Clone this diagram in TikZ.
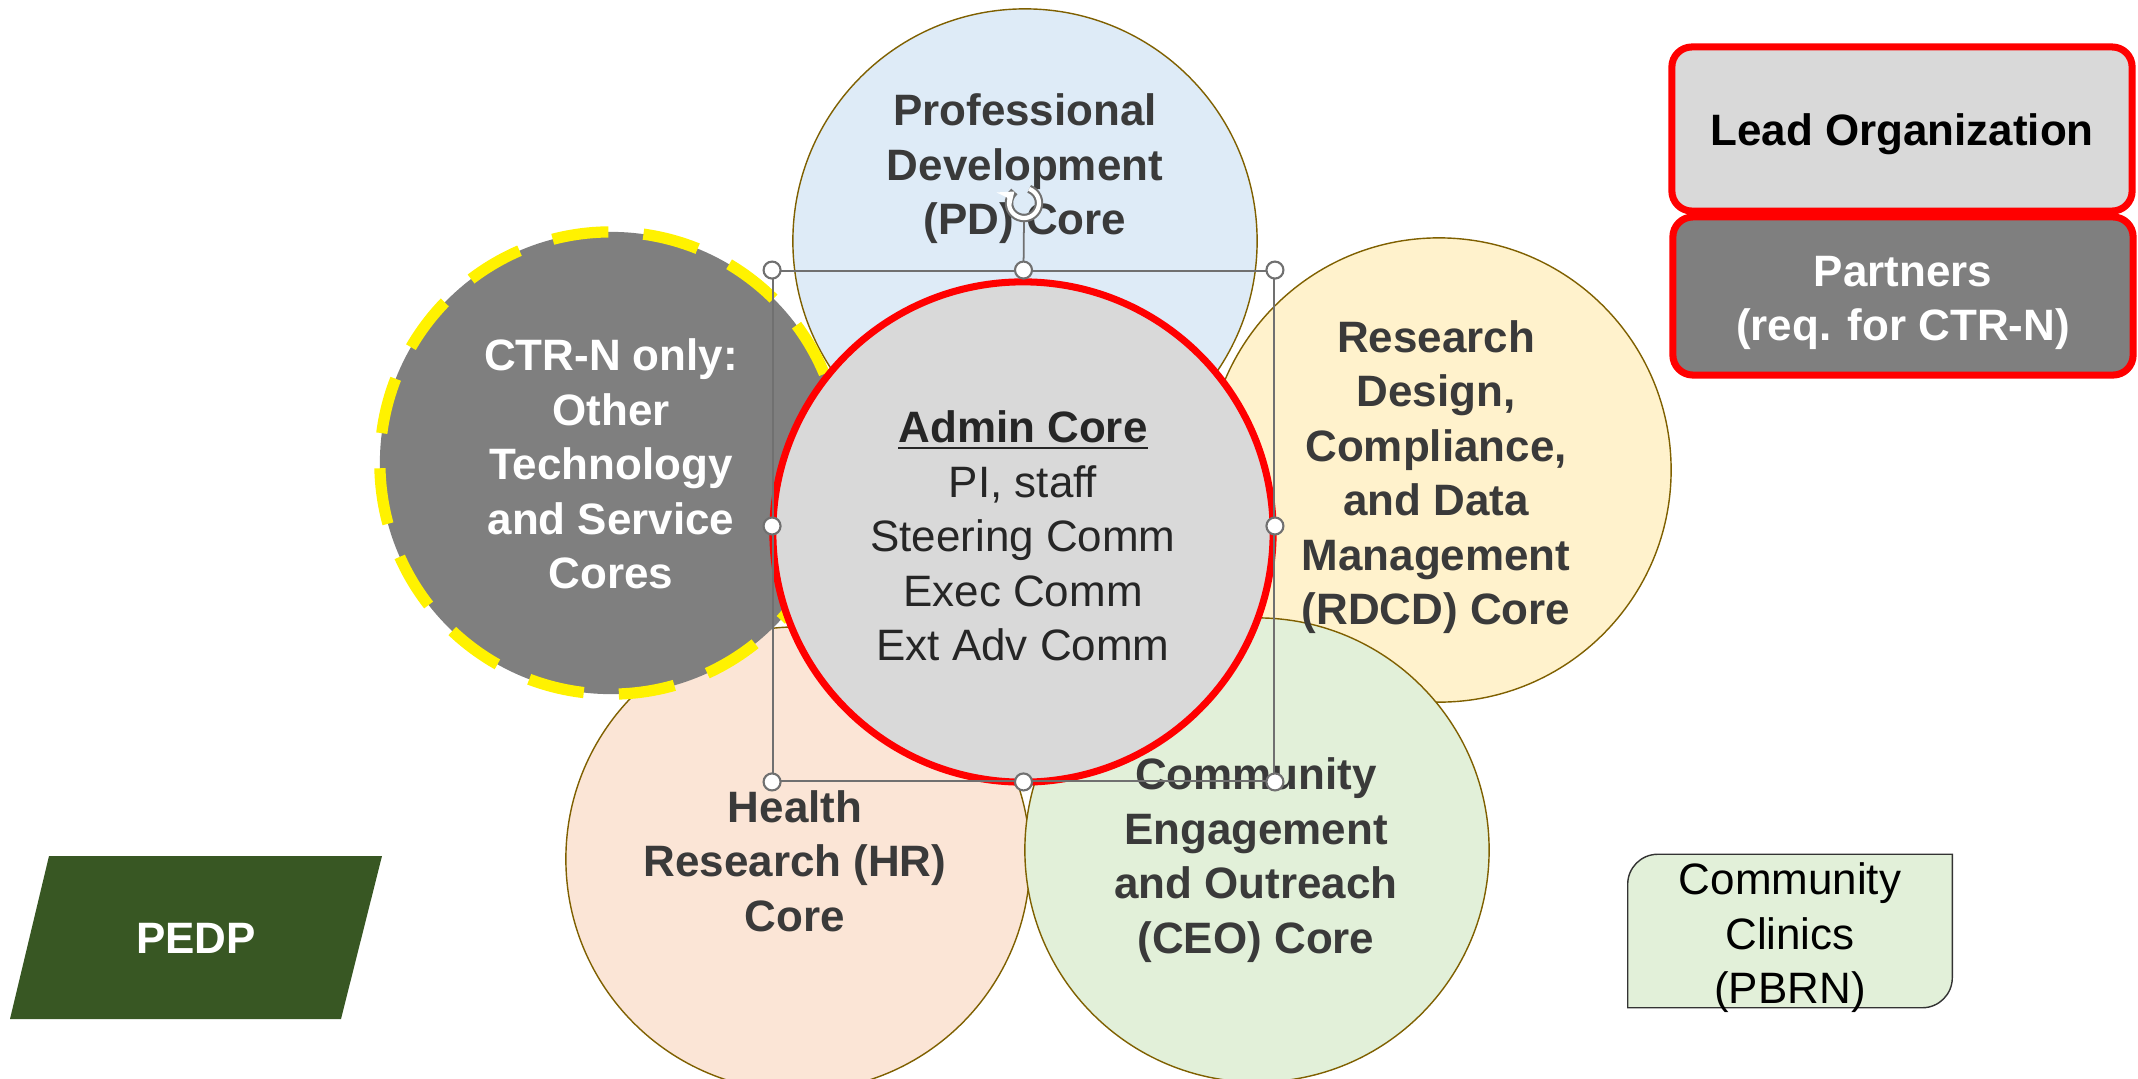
\documentclass[tikz,border=0pt]{standalone}
\usepackage{fontspec}
\setmainfont{Liberation Sans}
\usepackage{xcolor}
\usetikzlibrary{arrows.meta}

\definecolor{pdblue}{HTML}{DEEBF7}
\definecolor{rdcdyellow}{HTML}{FFF2CC}
\definecolor{ceogreen}{HTML}{E2F0D9}
\definecolor{hrpeach}{HTML}{FBE5D6}
\definecolor{admingray}{HTML}{D9D9D9}
\definecolor{ctrgray}{HTML}{7F7F7F}
\definecolor{coreline}{HTML}{7F6000}
\definecolor{coretext}{HTML}{3A3A3A}
\definecolor{pedpgreen}{HTML}{385723}
\definecolor{handlegray}{HTML}{707070}

\begin{document}
\begin{tikzpicture}[x=0.01cm,y=-0.01cm,
		every node/.style={font=\fontsize{12.5}{15.5}\selectfont, align=center},
		core/.style={circle, draw=coreline, line width=0.4pt, minimum size=4.64cm, inner sep=0pt},
		corelabel/.style={text=coretext, font=\fontsize{12.5}{15.5}\selectfont\bfseries},
		orgbox/.style={rectangle, rounded corners=0.2cm, draw=red, line width=2pt, minimum width=4.6cm, inner sep=0pt},
		orglabel/.style={font=\fontsize{12.5}{15.5}\selectfont\bfseries},
		handle/.style={circle, draw=handlegray, fill=white, line width=0.6pt, minimum size=0.17cm, inner sep=0pt}]
	\useasboundingbox (0,0) rectangle (2138,1078);
	
	% the core circles
	\node[core, fill=pdblue] (pd) at (1025,241) {};
	\node[core, fill=rdcdyellow] (rdcd) at (1439,470) {};
	\node[core, fill=hrpeach] (hr) at (798,859) {};
	\node[core, fill=ceogreen] (ceo) at (1257,850) {};
	
	\node[corelabel] (pdlabel) at (1025,169) {Professional\\Development\\(PD) Core};
	\node[corelabel] (rdcdlabel) at (1436,477) {Research\\Design,\\Compliance,\\and Data\\Management\\(RDCD) Core};
	\node[corelabel] (hrlabel) at (795,861) {Health\\Research (HR)\\Core};
	\node[corelabel] (ceolabel) at (1256,860) {Community\\Engagement\\and Outreach\\(CEO) Core};
	
	% optional cores, CTR-N only
	\node[circle, fill=ctrgray, draw=yellow, line width=3.2pt, dash pattern=on 16pt off 10pt,
		minimum size=4.62cm, inner sep=0pt] (ctrn) at (611,463) {};
	\node[corelabel, text=white] (ctrnlabel) at (611,464) {CTR-N only:\\Other\\Technology\\and Service\\Cores};
	
	% admin core in the middle
	\node[circle, fill=admingray, draw=red, line width=2pt, minimum size=5.0cm, inner sep=0pt] (admin) at (1023,532) {};
	\node[text=black!85] (adminlabel) at (1023,536) {\textbf{\underline{Admin Core}}\\PI, staff\\Steering Comm\\Exec Comm\\Ext Adv Comm};
	
	% selection frame round the admin core
	\node[draw=handlegray, line width=0.45pt, minimum width=5.01cm, minimum height=5.1cm, inner sep=0pt] (sel) at (1023.5,526) {};
	\coordinate (rot) at (1024,203);
	\draw[handlegray, line width=0.5pt] (sel.north) -- ([yshift=-0.16cm]rot);
	\foreach \a [count=\i] in {north west,north,north east,east,south east,south,south west,west} {
		\node[handle] (handle\i) at (sel.\a) {};
	}
	\draw[handlegray, line width=2.4pt] ([shift={(70:0.15cm)}]rot) arc[start angle=70, end angle=-230, radius=0.15cm];
	\draw[white, line width=1.2pt, -{Stealth[length=4pt,width=6pt]}] ([shift={(70:0.15cm)}]rot) arc[start angle=70, end angle=-230, radius=0.15cm];
	
	% lead and partners
	\node[orgbox, fill=admingray, minimum height=1.64cm] (lead) at (1902,129) {};
	\node[orglabel] (leadlabel) at (1902,134) {Lead Organization};
	\node[orgbox, fill=ctrgray, minimum height=1.58cm] (partners) at (1903,296) {};
	\node[orglabel, text=white] (partnerslabel) at (1903,303) {Partners\\(req. for CTR-N)};
	
	% pedp
	\fill[pedpgreen] (10,1019) -- (49,856) -- (382,856) -- (341,1019) -- cycle;
	\node[orglabel, text=white] (pedp) at (196,938) {PEDP};
	
	% community clinics
	\node[minimum width=3.23cm, minimum height=1.52cm, inner sep=0pt] (clinics) at (1790,931) {};
	\filldraw[fill=ceogreen, draw=black!80, line width=0.4pt] (clinics.south west) -- ([yshift=-0.3cm]clinics.north west)
		arc[start angle=180, end angle=90, radius=0.3cm] -- (clinics.north east) -- ([yshift=0.3cm]clinics.south east)
		arc[start angle=0, end angle=-90, radius=0.3cm] -- cycle;
	\node (clinicslabel) at (1790,938) {Community\\Clinics\\(PBRN)};
\end{tikzpicture}
\end{document}
